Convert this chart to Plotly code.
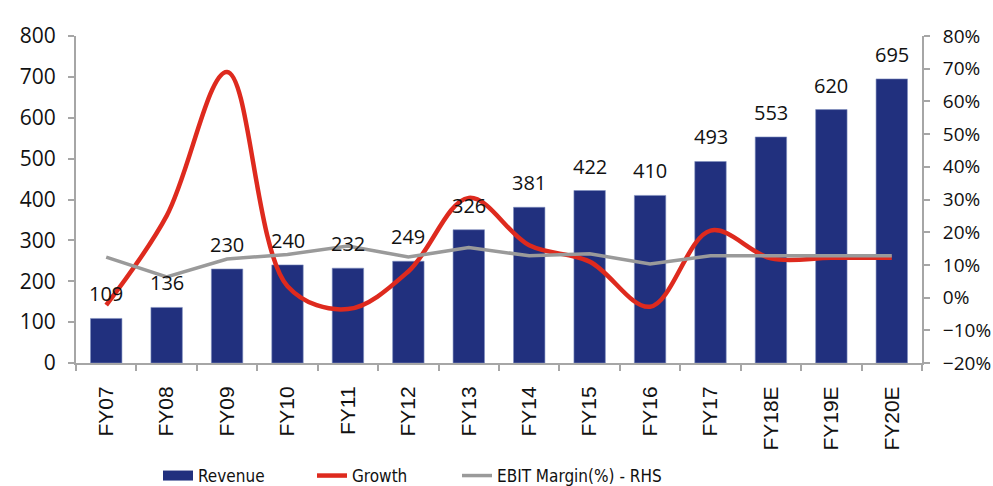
import plotly.graph_objects as go

categories = ["FY07", "FY08", "FY09", "FY10", "FY11", "FY12", "FY13", "FY14",
              "FY15", "FY16", "FY17", "FY18E", "FY19E", "FY20E"]
revenue = [109, 136, 230, 240, 232, 249, 326, 381, 422, 410, 493, 553, 620, 695]
growth = [-2.3, 25, 69, 3.5, -3.5, 8, 30.5, 16, 11, -2.8, 20.5, 12, 12.2, 12.2]
ebit_margin = [12.4, 6.3, 11.8, 13.2, 15.8, 12.4, 15.3, 12.8, 13.4, 10.3, 12.8, 12.8, 12.8, 12.8]

NAVY = "#21307E"
RED = "#DE2A1E"
GREY = "#9A9A9A"
AXIS = "#A6A6A6"
FONT = "Open Sans"
LEGFONT = "DejaVu Sans Condensed, Liberation Sans"

fig = go.Figure()
fig.add_trace(go.Bar(
    x=categories, y=revenue, name="Revenue", showlegend=False,
    marker=dict(color=NAVY, line=dict(color="#7F8FC0", width=0.6)),
    width=0.52,
))
fig.add_trace(go.Scatter(
    x=categories, y=growth, name="Growth", yaxis="y2", mode="lines",
    line=dict(color=RED, width=4.5, shape="spline", smoothing=1.0),
    legend="legend2",
))
fig.add_trace(go.Scatter(
    x=categories, y=ebit_margin, name="EBIT Margin(%) - RHS", yaxis="y2", mode="lines",
    line=dict(color=GREY, width=3.5),
    legend="legend3",
))
# legend-only swatch for the revenue bars (wide rectangle like the original)
fig.add_trace(go.Scatter(
    x=[None], y=[None], name="Revenue", mode="lines",
    line=dict(color=NAVY, width=12), legend="legend",
))

for c, v in zip(categories, revenue):
    fig.add_annotation(x=c, y=v, text=str(v), showarrow=False, yanchor="bottom",
                       yshift=9, font=dict(family=FONT, size=20, color="#111111"))

leg_common = dict(orientation="h", xref="container", yref="container",
                  yanchor="middle", xanchor="left", itemwidth=30,
                  font=dict(family=LEGFONT, size=17, color="#111111"),
                  bgcolor="rgba(0,0,0,0)")

fig.update_layout(
    width=993, height=486,
    margin=dict(l=76, r=71, t=36, b=123, autoexpand=False),
    paper_bgcolor="white", plot_bgcolor="white",
    font=dict(family=FONT, size=18, color="#111111"),
    showlegend=True,
    legend=dict(x=158 / 993, y=(486 - 476) / 486, **leg_common),
    legend2=dict(x=312 / 993, y=(486 - 476) / 486, **leg_common),
    legend3=dict(x=457 / 993, y=(486 - 476) / 486, **leg_common),
    xaxis=dict(
        type="category", showline=True, linecolor=AXIS, linewidth=2,
        ticks="outside", tickson="boundaries", ticklen=6, tickcolor=AXIS, tickwidth=2,
        tickangle=-90, tickfont=dict(family="Liberation Sans", size=21, color="#111111"),
        ticklabelstandoff=13, showgrid=False, range=[-0.5, 13.5], automargin=False,
    ),
    yaxis=dict(
        range=[0, 800], dtick=100, showline=True, linecolor=AXIS, linewidth=2,
        ticks="outside", ticklen=6, tickcolor=AXIS, tickwidth=2, showgrid=False,
        zeroline=False, tickfont=dict(family=FONT, size=21, color="#111111"),
        ticklabelstandoff=8, automargin=False,
    ),
    yaxis2=dict(
        range=[-20, 80], dtick=10, ticksuffix="%", overlaying="y", side="right",
        showline=True, linecolor=AXIS, linewidth=2, ticks="outside", ticklen=6,
        tickcolor=AXIS, tickwidth=2, showgrid=False, zeroline=False,
        tickfont=dict(family=FONT, size=19, color="#111111"),
        ticklabelstandoff=9, automargin=False,
    ),
)

fig.write_html("out.html", config={"displayModeBar": False},
               post_script="document.body.style.margin='0';document.body.style.overflow='hidden';")
